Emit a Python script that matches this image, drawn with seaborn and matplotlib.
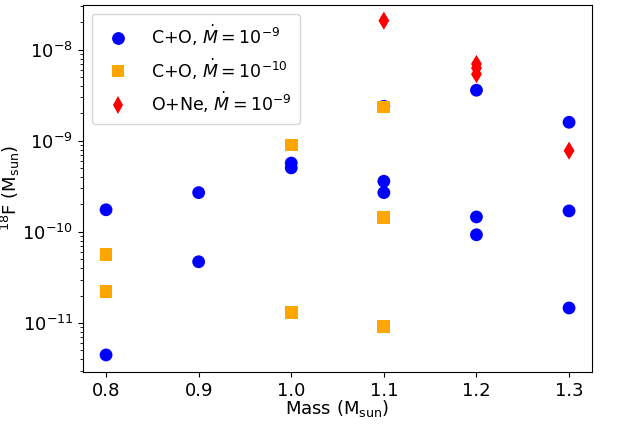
import pandas as pd
import matplotlib
matplotlib.use("Agg")
import matplotlib.pyplot as plt
import seaborn as sns

# 18F yields (M_sun) against white dwarf mass
co9_mass = [0.8, 0.8, 0.9, 0.9, 1.0, 1.0, 1.1, 1.1, 1.1, 1.2, 1.2, 1.2, 1.3, 1.3, 1.3]
co9_f18 = [1.75e-10, 4.45e-12, 2.7e-10, 4.7e-11, 5.7e-10, 5.05e-10, 3.6e-10, 2.7e-10, 2.4e-9,
           3.6e-9, 1.46e-10, 9.3e-11, 1.6e-9, 1.7e-10, 1.46e-11]

co10_mass = [0.8, 0.8, 1.0, 1.0, 1.1, 1.1, 1.1]
co10_f18 = [5.7e-11, 2.2e-11, 9.0e-10, 1.29e-11, 2.35e-9, 1.43e-10, 9.1e-12]

one_mass = [1.1, 1.2, 1.2, 1.2, 1.3]
one_f18 = [2.09e-8, 7.0e-9, 6.3e-9, 5.4e-9, 7.8e-10]

labels = [r"C+O, $\dot{M} = 10^{-9}$", r"C+O, $\dot{M} = 10^{-10}$", r"O+Ne, $\dot{M} = 10^{-9}$"]

df = pd.concat([
    pd.DataFrame({"mass": co9_mass, "f18": co9_f18, "model": labels[0]}),
    pd.DataFrame({"mass": co10_mass, "f18": co10_f18, "model": labels[1]}),
    pd.DataFrame({"mass": one_mass, "f18": one_f18, "model": labels[2]}),
])

fig = plt.figure(figsize=(6.28, 4.25), dpi=100)
ax = fig.add_axes([0.132, 0.125, 0.811, 0.863])

sns.scatterplot(data=df, x="mass", y="f18", hue="model", style="model",
                hue_order=labels, style_order=labels,
                palette=["blue", "orange", "red"],
                markers={labels[0]: "o", labels[1]: "s", labels[2]: "d"},
                s=85, linewidth=0, ax=ax)

ax.set_yscale("log")
ax.set_ylim(2.9e-12, 3.1e-8)
ax.set_xticks([0.8, 0.9, 1.0, 1.1, 1.2, 1.3])
ax.tick_params(labelsize=13)
ax.set_xlabel(r"Mass (M$_{\rm sun}$)", fontsize=13)
ax.set_ylabel(r"$^{18}$F (M$_{\rm sun}$)", fontsize=13)
ax.xaxis.set_label_coords(0.5, -0.072)
ax.yaxis.set_label_coords(-0.12, 0.5)
ax.legend(fontsize=12.5, loc="upper left", borderpad=0.5, labelspacing=0.5, handletextpad=0.9)

fig.savefig("out.png", dpi=100)
